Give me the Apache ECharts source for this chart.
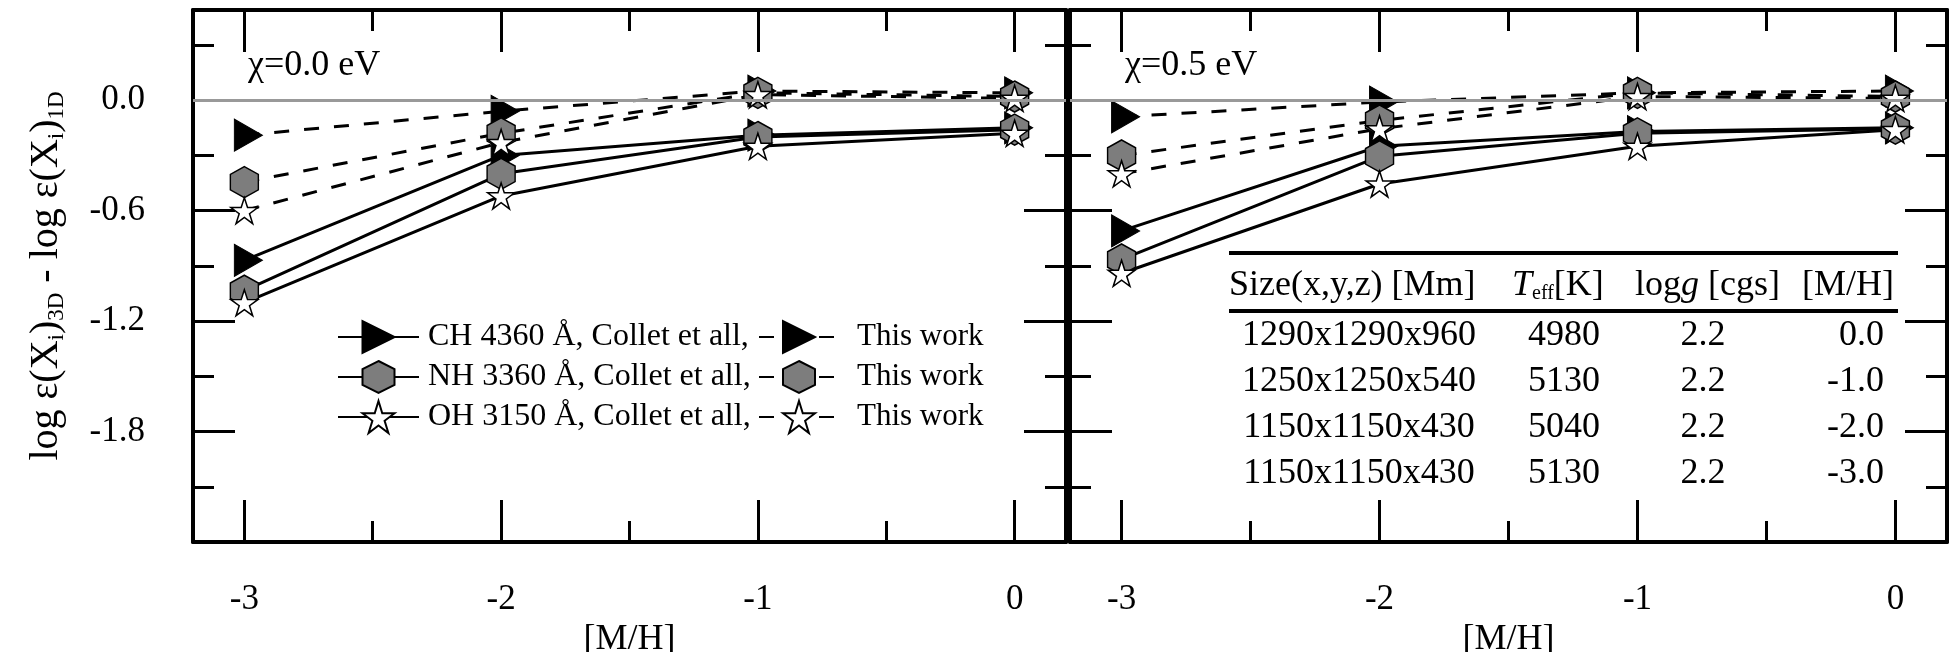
<!DOCTYPE html>
<html>
<head>
<meta charset="utf-8">
<script src="https://cdn.jsdelivr.net/npm/echarts@6/dist/echarts.min.js"></script>
<style>
html,body{margin:0;padding:0;background:#fff;}
#chart{width:1953px;height:652px;}
</style>
</head>
<body>
<div id="chart"></div>
<script>
// ---------------- DATA ----------------
const metallicity = [-3, -2, -1, 0];

// chi = 0.0 eV panel
const chCollet00 = [-0.87, -0.30, -0.19, -0.15];
const nhCollet00 = [-1.035, -0.40, -0.20, -0.16];
const ohCollet00 = [-1.10, -0.52, -0.25, -0.18];
const chThis00   = [-0.19, -0.06, 0.05, 0.04];
const nhThis00   = [-0.445, -0.18, 0.04, 0.02];
const ohThis00   = [-0.60, -0.23, 0.03, 0.01];

// chi = 0.5 eV panel
const chCollet05 = [-0.71, -0.25, -0.17, -0.15];
const nhCollet05 = [-0.865, -0.305, -0.18, -0.155];
const ohCollet05 = [-0.94, -0.455, -0.25, -0.16];
const chThis05   = [-0.09, -0.01, 0.04, 0.05];
const nhThis05   = [-0.30, -0.11, 0.04, 0.02];
const ohThis05   = [-0.40, -0.155, 0.02, 0.01];

const colletNames = ['CH 4360 Å, Collet et all,', 'NH 3360 Å, Collet et all,', 'OH 3150 Å, Collet et all,'];
const thisNames   = ['CH 4360 Å, This work', 'NH 3360 Å, This work', 'OH 3150 Å, This work'];
const thisLabel   = 'This work';

const panelLabels = ['χ=0.0 eV', 'χ=0.5 eV'];

const xMajorTicks = [-3, -2, -1, 0];
const xMinorTicks = [-2.5, -1.5, -0.5];
const yMajorTicks = [0, -0.6, -1.2, -1.8];
const yMinorTicks = [0.3, -0.3, -0.9, -1.5, -2.1];

const tableHeader = ['Size(x,y,z) [Mm]', 'Teff[K]', 'logg [cgs]', '[M/H]'];
const tableSize = ['1290x1290x960', '1250x1250x540', '1150x1150x430', '1150x1150x430'];
const tableTeff = [4980, 5130, 5040, 5130];
const tableLogg = [2.2, 2.2, 2.2, 2.2];
const tableMH   = [0.0, -1.0, -2.0, -3.0];

// ---------------- STYLE ----------------
const FONT = '"Liberation Serif", "Times New Roman", Times, serif';
const X_MIN = -3.2, X_MAX = 0.2, Y_MIN = -2.4, Y_MAX = 0.49;

const HEX = 'path://M0,-16L14,-8L14,8L0,16L-14,8L-14,-8Z';
const STAR = 'path://M0,-50L11.23,-15.45L47.55,-15.45L18.16,5.9L29.39,40.45L0,19.1L-29.39,40.45L-18.16,5.9L-47.55,-15.45L-11.23,-15.45Z';

const SYM = [
  {symbol: 'triangle', symbolSize: [32, 28], symbolRotate: -90, symbolOffset: [4, 0],
   itemStyle: {color: '#000', borderColor: '#000', borderWidth: 1}},
  {symbol: HEX, symbolSize: [28, 31], symbolRotate: 0, symbolOffset: [0, 0],
   itemStyle: {color: '#7d7d7d', borderColor: '#000', borderWidth: 1.5}},
  {symbol: STAR, symbolSize: [27, 26], symbolRotate: 0, symbolOffset: [0, 0],
   itemStyle: {color: '#fff', borderColor: '#000', borderWidth: 1.5}}
];

const grids = [
  {left: 193, top: 10, width: 873, height: 532, outerBoundsMode: 'none', containLabel: false},
  {left: 1070, top: 10, width: 877, height: 532, outerBoundsMode: 'none', containLabel: false}
];

function xAx(g, pos, ticks, len, line, label, name) {
  const a = {
    type: 'value', gridIndex: g, position: pos, min: X_MIN, max: X_MAX,
    axisLine: {show: line, onZero: false, lineStyle: {color: '#000', width: 4}},
    axisTick: {show: true, inside: true, length: len, customValues: ticks, lineStyle: {color: '#000', width: 3}},
    axisLabel: {show: label, customValues: ticks, margin: 40, color: '#000', fontFamily: FONT, fontSize: 35,
                formatter: v => String(v)},
    splitLine: {show: false}, minorTick: {show: false}, minorSplitLine: {show: false}
  };
  if (name) {
    a.name = '[M/H]'; a.nameLocation = 'middle'; a.nameGap = 73;
    a.nameTextStyle = {color: '#000', fontFamily: FONT, fontSize: 36};
  }
  return a;
}
function yAx(g, pos, ticks, len, line, label, name) {
  const a = {
    type: 'value', gridIndex: g, position: pos, min: Y_MIN, max: Y_MAX,
    axisLine: {show: line, onZero: false, lineStyle: {color: '#000', width: 4}},
    axisTick: {show: true, inside: true, length: len, customValues: ticks, lineStyle: {color: '#000', width: 3}},
    axisLabel: {show: label, customValues: ticks, margin: 48, color: '#000', fontFamily: FONT, fontSize: 35,
                formatter: v => v.toFixed(1)},
    splitLine: {show: false}, minorTick: {show: false}, minorSplitLine: {show: false}
  };
  if (name) {
    a.name = '{n|log ε(X}{s|i}{n|)}{s|3D}{n| - log ε(X}{s|i}{n|)}{s|1D}';
    a.nameLocation = 'middle'; a.nameGap = 125;
    a.nameTextStyle = {
      color: '#000', fontFamily: FONT,
      rich: {
        n: {fontFamily: FONT, fontSize: 40, color: '#000', lineHeight: 42, verticalAlign: 'top'},
        s: {fontFamily: FONT, fontSize: 23, color: '#000', lineHeight: 23, padding: [31, 0, 0, 0], verticalAlign: 'bottom'}
      }
    };
  }
  return a;
}

const xAxis = [], yAxis = [];
for (let g = 0; g < 2; g++) {
  xAxis.push(xAx(g, 'bottom', xMajorTicks, 42, true, true, true));
  xAxis.push(xAx(g, 'bottom', xMinorTicks, 21, false, false, false));
  xAxis.push(xAx(g, 'top', xMajorTicks, 42, true, false, false));
  xAxis.push(xAx(g, 'top', xMinorTicks, 21, false, false, false));
  yAxis.push(yAx(g, 'left', yMajorTicks, 42, true, g === 0, g === 0));
  yAxis.push(yAx(g, 'left', yMinorTicks, 21, false, false, false));
  yAxis.push(yAx(g, 'right', yMajorTicks, 42, true, false, false));
  yAxis.push(yAx(g, 'right', yMinorTicks, 21, false, false, false));
}

const panelData = [
  {collet: [chCollet00, nhCollet00, ohCollet00], mine: [chThis00, nhThis00, ohThis00]},
  {collet: [chCollet05, nhCollet05, ohCollet05], mine: [chThis05, nhThis05, ohThis05]}
];

const series = [];
panelData.forEach((p, g) => {
  // reference zero line
  series.push({
    type: 'line', xAxisIndex: g * 4, yAxisIndex: g * 4, data: [], z: 1, silent: true,
    markLine: {silent: true, symbol: ['none', 'none'], label: {show: false},
               lineStyle: {color: '#999', width: 3, type: 'solid'}, data: [{yAxis: 0}]}
  });
  const add = (name, vals, k, dashed) => {
    series.push(Object.assign({
      name: name, type: 'line', xAxisIndex: g * 4, yAxisIndex: g * 4, z: 3,
      data: metallicity.map((m, i) => [m, vals[i]]),
      showAllSymbol: true,
      lineStyle: {color: '#000', width: 3, type: dashed ? [15, 15] : 'solid'},
      emphasis: {disabled: true}
    }, SYM[k]));
  };
  p.collet.forEach((v, k) => add(colletNames[k], v, k, false));
  p.mine.forEach((v, k) => add(thisNames[k], v, k, true));
});

// ---------------- GRAPHIC (panel labels + table) ----------------
const graphic = [];
const panelLabelX = [248, 1125];
panelLabels.forEach((t, g) => {
  graphic.push({type: 'text', x: panelLabelX[g], y: 66, z: 10,
    style: {text: t, fontFamily: FONT, fontSize: 36, fill: '#000', align: 'left', verticalAlign: 'middle'}});
});

const tblLeft = 1229, tblRight = 1898;
graphic.push({type: 'rect', shape: {x: tblLeft, y: 251, width: tblRight - tblLeft, height: 4}, style: {fill: '#000'}, z: 10});
graphic.push({type: 'rect', shape: {x: tblLeft, y: 309, width: tblRight - tblLeft, height: 4}, style: {fill: '#000'}, z: 10});

const hdrRich = {
  n: {fontFamily: FONT, fontSize: 36, fill: '#000', lineHeight: 36, verticalAlign: 'top'},
  i: {fontFamily: FONT, fontSize: 36, fontStyle: 'italic', fill: '#000', lineHeight: 36, verticalAlign: 'top'},
  s: {fontFamily: FONT, fontSize: 20, fill: '#000', lineHeight: 20, padding: [28, 0, 0, 0], verticalAlign: 'bottom'}
};
const hdrText = [
  '{n|' + tableHeader[0] + '}',
  '{i|' + tableHeader[1].slice(0, 1) + '}{s|' + tableHeader[1].slice(1, 4) + '}{n|' + tableHeader[1].slice(4) + '}',
  '{n|' + tableHeader[2].slice(0, 3) + '}{i|' + tableHeader[2].slice(3, 4) + '}{n|' + tableHeader[2].slice(4) + '}',
  '{n|' + tableHeader[3] + '}'
];
const hdrX = [1229, 1512, 1635, 1894];
const hdrAlign = ['left', 'left', 'left', 'right'];
hdrText.forEach((t, j) => {
  graphic.push({type: 'text', x: hdrX[j], y: 286, z: 10,
    style: {text: t, rich: hdrRich, fontFamily: FONT, fontSize: 36, fill: '#000', align: hdrAlign[j], verticalAlign: 'middle'}});
});

const rowY = [336, 382, 428, 474];
const colX = [1359, 1564, 1703, 1884];
const colAlign = ['center', 'center', 'center', 'right'];
tableSize.forEach((s, r) => {
  const cells = [s, String(tableTeff[r]), tableLogg[r].toFixed(1), tableMH[r].toFixed(1)];
  cells.forEach((c, j) => {
    graphic.push({type: 'text', x: colX[j], y: rowY[r], z: 10,
      style: {text: c, fontFamily: FONT, fontSize: 36, fill: '#000', align: colAlign[j], verticalAlign: 'middle'}});
  });
});

// ---------------- OPTION ----------------
const legendText = {color: '#000', fontFamily: FONT, fontSize: 32, lineHeight: 40};
const option = {
  animation: false,
  backgroundColor: '#fff',
  grid: grids,
  xAxis: xAxis,
  yAxis: yAxis,
  legend: [
    {orient: 'vertical', left: 337, top: 317, padding: 0, itemWidth: 81, itemHeight: 40, itemGap: 0,
     selectedMode: false, data: colletNames, symbolRotate: 'inherit',
     textStyle: Object.assign({padding: [0, 0, 0, 4]}, legendText)},
    {orient: 'vertical', left: 758, top: 317, padding: 0, itemWidth: 80, itemHeight: 40, itemGap: 0,
     selectedMode: false, data: thisNames, symbolRotate: 'inherit', formatter: () => thisLabel,
     textStyle: Object.assign({padding: [0, 0, 0, 13]}, legendText, {fontSize: 31})}
  ],
  graphic: graphic,
  series: series
};

const chart = echarts.init(document.getElementById('chart'), null, {renderer: 'canvas'});
chart.setOption(option);
</script>
</body>
</html>
